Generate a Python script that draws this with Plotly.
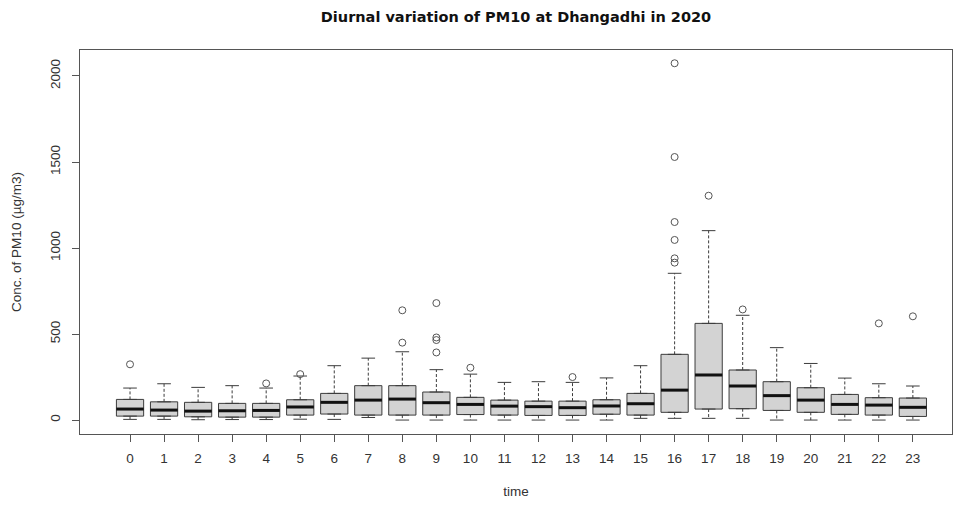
import plotly.graph_objects as go

hours = list(range(24))
q1 = [23, 23, 19, 17, 17, 29, 35, 29, 29, 29, 32, 29, 27, 27, 34, 29, 45, 64, 66, 56, 45, 33, 29, 21]
medians = [64, 58, 52, 54, 56, 76, 103, 116, 122, 101, 91, 81, 78, 72, 82, 95, 174, 262, 198, 142, 116, 91, 87, 74]
q3 = [120, 106, 103, 97, 97, 118, 155, 200, 200, 163, 132, 116, 110, 110, 118, 155, 382, 562, 291, 223, 188, 149, 130, 128]
whisker_low = [4, 4, 2, 3, 3, 5, 4, 15, 0, 0, 0, 0, 0, 0, 0, 10, 10, 10, 10, 0, 0, 0, 0, 0]
whisker_high = [186, 211, 190, 200, 186, 256, 316, 360, 397, 293, 267, 219, 223, 219, 245, 316, 853, 1101, 609, 421, 329, 244, 211, 198]
outlier_hour = [0, 4, 5, 8, 8, 9, 9, 9, 9, 10, 13, 16, 16, 16, 16, 16, 16, 17, 18, 22, 23]
outlier_value = [324, 213, 267, 450, 638, 393, 465, 480, 680, 304, 250, 915, 940, 1047, 1151, 1529, 2074, 1304, 643, 562, 603]
tick_labels = [str(h) for h in hours]

BOXW = 0.8
STAPLE = 0.2
LINE_C = "#3c3c3c"

fig = go.Figure()

# boxes (no whiskers; those are drawn R-style below)
fig.add_trace(go.Box(
    x=hours, q1=q1, median=medians, q3=q3,
    lowerfence=q1, upperfence=q3,
    width=BOXW, fillcolor="#d3d3d3",
    line=dict(color=LINE_C, width=1),
    boxpoints=False, showlegend=False, hoverinfo="skip",
))

# dashed whiskers
wx, wy = [], []
for h, a, b, lo, hi in zip(hours, q1, q3, whisker_low, whisker_high):
    wx += [h, h, None, h, h, None]
    wy += [b, hi, None, a, lo, None]
fig.add_trace(go.Scatter(x=wx, y=wy, mode="lines",
                         line=dict(color=LINE_C, width=1, dash="3px,2px"),
                         showlegend=False, hoverinfo="skip"))

# staples
sx, sy = [], []
for h, lo, hi in zip(hours, whisker_low, whisker_high):
    sx += [h - STAPLE, h + STAPLE, None, h - STAPLE, h + STAPLE, None]
    sy += [hi, hi, None, lo, lo, None]
fig.add_trace(go.Scatter(x=sx, y=sy, mode="lines",
                         line=dict(color=LINE_C, width=1),
                         showlegend=False, hoverinfo="skip"))

# thick medians
mx, my = [], []
for h, m in zip(hours, medians):
    mx += [h - BOXW / 2, h + BOXW / 2, None]
    my += [m, m, None]
fig.add_trace(go.Scatter(x=mx, y=my, mode="lines",
                         line=dict(color="#111111", width=3),
                         showlegend=False, hoverinfo="skip"))

# outliers
fig.add_trace(go.Scatter(x=outlier_hour, y=outlier_value, mode="markers",
                         marker=dict(symbol="circle-open", size=7,
                                     color="#555555", line=dict(width=1)),
                         showlegend=False))

fig.update_layout(
    width=953, height=506,
    margin=dict(l=80, r=1, t=50, b=72),
    paper_bgcolor="white", plot_bgcolor="white",
    font=dict(family="Liberation Sans, Arial, sans-serif", size=13.5, color="#333333"),
    title=dict(text="<b>Diurnal variation of PM10 at Dhangadhi in 2020</b>",
               x=516 / 953, xanchor="center", y=1 - 17 / 506, yanchor="middle",
               font=dict(family="DejaVu Sans, sans-serif", size=14.5, color="#111111")),
    xaxis=dict(
        range=[-1.47, 24.15], tickmode="array", tickvals=hours, ticktext=tick_labels,
        showgrid=False, zeroline=False, showline=True, mirror=True,
        linecolor="#555555", linewidth=1,
        ticks="outside", ticklen=7, tickcolor="#555555",
        ticklabelstandoff=5, tickfont=dict(size=13.5),
        title=dict(text="time", font=dict(size=13.5), standoff=21),
    ),
    yaxis=dict(
        range=[-81, 2151], tickmode="array", tickvals=[0, 500, 1000, 1500, 2000],
        showgrid=False, zeroline=False, showline=True, mirror=True,
        linecolor="#555555", linewidth=1,
        ticks="outside", ticklen=7, tickcolor="#555555",
        tickangle=-90, ticklabelstandoff=7, tickfont=dict(size=13.5),
        title=dict(text="Conc. of PM10 (µg/m3)", font=dict(size=13.5), standoff=22),
    ),
)

fig.write_html("out.html", config={"displayModeBar": False},
               post_script="document.body.style.margin='0px';")
